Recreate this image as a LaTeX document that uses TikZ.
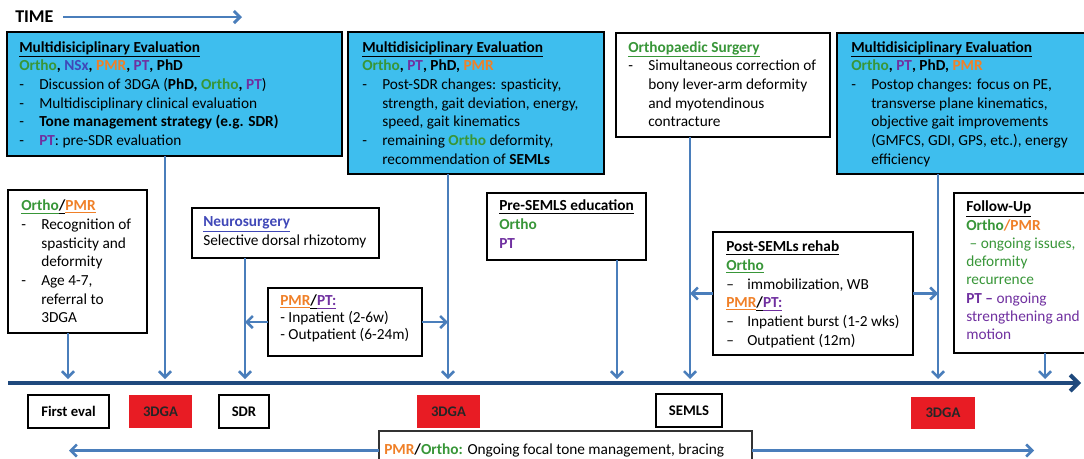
\documentclass[tikz,border=0pt]{standalone}
\usepackage{fontspec}
\setmainfont{Carlito}
\usetikzlibrary{arrows.meta}
\definecolor{skyfill}{RGB}{62,190,238}
\definecolor{arrblue}{RGB}{74,126,187}
\definecolor{navyline}{RGB}{31,73,125}
\definecolor{cred}{RGB}{232,28,36}
\definecolor{ogreen}{RGB}{56,150,56}
\definecolor{opmr}{RGB}{240,128,40}
\definecolor{opt}{RGB}{112,48,160}
\definecolor{onsx}{RGB}{64,72,184}
\newcommand\xOrtho[1]{\textcolor{ogreen}{#1}}
\newcommand\xPMR[1]{\textcolor{opmr}{#1}}
\newcommand\xPT[1]{\textcolor{opt}{#1}}
\newcommand\xNSx[1]{\textcolor{onsx}{#1}}
\newcommand\xitm[1]{\makebox[15pt][l]{-}#1}
\newcommand\xitmd[1]{\makebox[15.75pt][l]{--}#1}
\newcommand\xcnt{\hspace*{15pt}}
\newcommand\xs{\rule{0pt}{10pt}}
\begin{document}
\begin{tikzpicture}[x=0.75pt,y=-0.75pt,
  place/.style n args={4}{minimum width={(#3-#1)*0.75pt}, minimum height={(#4-#2)*0.75pt}, at={({(#1+#3)/2},{(#2+#4)/2})}},
  boxframe/.style={draw=black, line width=2.2pt, inner sep=0pt, outer sep=0pt},
  bluebox/.style={boxframe, fill=skyfill},
  whitebox/.style={boxframe, fill=white},
  labbox/.style={boxframe, font=\bfseries\fontsize{11}{13}\selectfont},
  redlab/.style={fill=cred, inner sep=0pt, outer sep=0pt, font=\bfseries\fontsize{11}{13}\selectfont, text=black!85},
  txt/.style={anchor=north west, align=left, inner sep=0pt, font=\fontsize{11.5}{14}\selectfont},
  arr/.style={draw=arrblue, line width=1.9pt, -{Straight Barb[length=4.5pt,width=9pt]}},
  timeline/.style={draw=navyline, line width=3pt, -{Straight Barb[length=6pt,width=12pt]}}
]
\useasboundingbox (0,0) rectangle (1084,458);
\fill[white] (0,0) rectangle (1084,458);

% TIME
\node[anchor=west, inner sep=0pt, font=\bfseries\fontsize{13.5}{15}\selectfont] (time) at (15,17) {TIME};
\coordinate (timeend) at (242,17);
\draw[arr, line width=2.2pt] ([xshift=7pt]time.east) -- (timeend);

% upper boxes
\node[bluebox, place={7}{32}{342}{156}] (b1) {};
\node[bluebox, place={348}{32}{604}{174}] (b2) {};
\node[whitebox, place={616}{33}{830}{137}] (b3) {};
\node[bluebox, place={837}{33}{1090}{174}] (b4) {};
\node[whitebox, place={8}{190}{147}{333}] (b5) {};
\node[whitebox, place={192}{208}{379}{258}] (b6) {};
\node[whitebox, place={268}{288}{422}{356}] (b7) {};
\node[whitebox, place={487}{193}{646}{260}] (b8) {};
\node[whitebox, place={713}{232}{913}{355}] (b9) {};
\node[whitebox, place={954}{193}{1092}{353}] (b10) {};

\node[txt] (t1) at (19,38.6) {\xs\textbf{\underline{Multidisiciplinary Evaluation}}\\
\textbf{\xOrtho{Ortho}, \xNSx{NSx}, \xPMR{PMR}, \xPT{PT}, PhD}\\
\xitm{Discussion of 3DGA (\textbf{PhD, \xOrtho{Ortho}, \xPT{PT}})}\\
\xitm{Multidisciplinary clinical evaluation}\\
\xitm{\textbf{Tone management strategy (e.g. SDR)}}\\
\xitm{\textbf{\xPT{PT}}: pre-SDR evaluation}};

\node[txt] (t2) at (362,38.6) {\xs\textbf{\underline{Multidisiciplinary Evaluation}}\\
\textbf{\xOrtho{Ortho}, \xPT{PT}, PhD, \xPMR{PMR}}\\
\xitm{Post-SDR changes: spasticity,}\\
\xcnt strength, gait deviation, energy,\\
\xcnt speed, gait kinematics\\
\xitm{remaining \textbf{\xOrtho{Ortho}} deformity,}\\
\xcnt recommendation of \textbf{SEMLs}};

\node[txt] (t3) at (628,38.6) {\xs\textbf{\xOrtho{\underline{Orthopaedic Surgery}}}\\
\xitm{Simultaneous correction of}\\
\xcnt bony lever-arm deformity\\
\xcnt and myotendinous\\
\xcnt contracture};

\node[txt] (t4) at (851,38.6) {\xs\textbf{\underline{Multidisiciplinary Evaluation}}\\
\textbf{\xOrtho{Ortho}, \xPT{PT}, PhD, \xPMR{PMR}}\\
\xitm{Postop changes: focus on PE,}\\
\xcnt transverse plane kinematics,\\
\xcnt objective gait improvements\\
\xcnt (GMFCS, GDI, GPS, etc.), energy\\
\xcnt efficiency};

\node[txt] (t5) at (21,197.2) {\xs\textbf{\xOrtho{\underline{Ortho}}\underline{/}\xPMR{\underline{PMR}}}\\
\xitm{Recognition of}\\
\xcnt spasticity and\\
\xcnt deformity\\
\xitm{Age 4-7,}\\
\xcnt referral to\\
\xcnt 3DGA};

\node[txt] (t6) at (203,213.2) {\xs\textbf{\xNSx{\underline{Neurosurgery}}}\\
Selective dorsal rhizotomy};

\node[txt, font=\fontsize{11.5}{12.6}\selectfont] (t7) at (280,292.2) {\xs\textbf{\xPMR{\underline{PMR}}\underline{/}\xPT{\underline{PT:}}}\\
- Inpatient (2-6w)\\
- Outpatient (6-24m)};

\node[txt] (t8) at (499,197.2) {\xs\textbf{\underline{Pre-SEMLS education}}\\
\textbf{\xOrtho{Ortho}}\\
\textbf{\xPT{PT}}};

\node[txt] (t9) at (726,238.2) {\xs\textbf{\underline{Post-SEMLs rehab}}\\
\textbf{\xOrtho{\underline{Ortho}}}\\
\xitmd{immobilization, WB}\\
\textbf{\xPMR{\underline{PMR}}\underline{/}\xPT{\underline{PT:}}}\\
\xitmd{Inpatient burst (1-2 wks)}\\
\xitmd{Outpatient (12m)}};

\node[txt, font=\fontsize{11.5}{13.7}\selectfont] (t10) at (966,198.2) {\xs\textbf{\underline{Follow-Up}}\\
\textbf{\xOrtho{Ortho}\xPMR{/PMR}}\\
\xOrtho{\ -- ongoing issues,}\\
\xOrtho{deformity}\\
\xOrtho{recurrence}\\
\xPT{\textbf{PT --} ongoing}\\
\xPT{strengthening and}\\
\xPT{motion}};

% timeline
\coordinate (tl0) at (8,383);
\coordinate (tl1) at (1081,383);
\draw[timeline] (tl0) -- (tl1);

% arrow targets on timeline
\coordinate (a1) at (68,379);
\coordinate (a2) at (165,379);
\coordinate (a3) at (245,379);
\coordinate (a4) at (448,379);
\coordinate (a5) at (617,379);
\coordinate (a6) at (690,379);
\coordinate (a7) at (938,379);
\coordinate (a8) at (1045,379);

\draw[arr] (b5.south -| a1) -- (a1);
\draw[arr] (b1.south -| a2) -- (a2);
\draw[arr] (b6.south -| a3) -- (a3);
\draw[arr] (b2.south -| a4) -- (a4);
\draw[arr] (b8.south -| a5) -- (a5);
\draw[arr] (b3.south -| a6) -- (a6);
\draw[arr] (b4.south -| a7) -- (a7);
\draw[arr] (b10.south -| a8) -- (a8);

\draw[arr] (b7.west) -- (b7.west -| a3);
\draw[arr] (b7.east) -- (b7.east -| a4);
\draw[arr] (b9.west) -- (b9.west -| a6);
\draw[arr] (b9.east) -- (b9.east -| a7);

% bottom labels
\node[labbox, place={28}{395}{109}{428}] (l1) {First eval};
\node[redlab, place={129}{395}{192}{428}] (l2) {3DGA};
\node[labbox, place={219}{395}{269}{428}] (l3) {SDR};
\node[redlab, place={417}{395}{480}{428}] (l4) {3DGA};
\node[labbox, place={656}{394}{722}{427}] (l5) {SEMLS};
\node[redlab, place={911}{397}{975}{429}] (l6) {3DGA};

% ongoing management
\node[draw=black!80, line width=0.8pt, fill=white, inner sep=0pt, outer sep=0pt, place={379}{431}{752}{470}] (b11) {};
\node[anchor=west, inner sep=0pt, font=\fontsize{11.5}{13.9}\selectfont] (t11) at (384,450.5) {\textbf{\xPMR{PMR}/\xOrtho{Ortho:}} Ongoing focal tone management, bracing};
\coordinate (m0) at (69,450.5);
\coordinate (m1) at (1034,450.5);
\draw[arr] (b11.west) -- (m0);
\draw[arr] (b11.east) -- (m1);
\end{tikzpicture}
\end{document}
